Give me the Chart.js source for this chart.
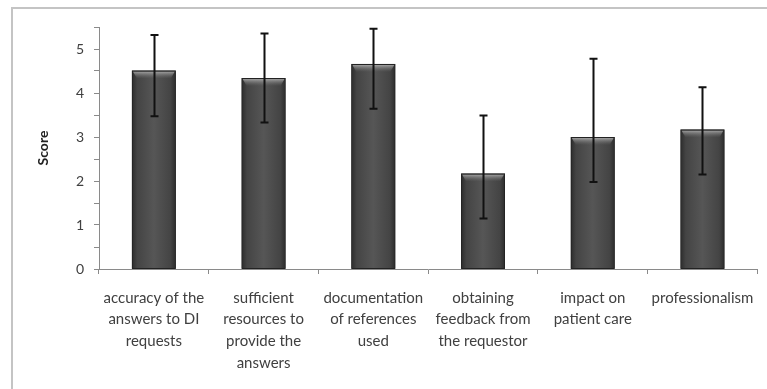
<!DOCTYPE html>
<html>
<head>
<meta charset="utf-8">
<script src="https://cdn.jsdelivr.net/npm/chart.js@4/dist/chart.umd.min.js"></script>
<style>
  body { margin: 0; background: #fff; }
  #wrap { position: relative; width: 767px; height: 389px; overflow: hidden; }
  #frame { position: absolute; left: 11px; top: 7px; width: 800px; height: 420px;
           border-top: 2px solid #c4c4c4; border-left: 2px solid #c4c4c4; }
  canvas { position: absolute; left: 0; top: 0; }
</style>
</head>
<body>
<div id="wrap">
  <div id="frame"></div>
  <canvas id="scoreChart" width="767" height="389"></canvas>
</div>
<script>
  // Categories (multi-line labels as in the original)
  const categories = [
    ['accuracy of the', 'answers to DI', 'requests'],
    ['sufficient', 'resources to', 'provide the', 'answers'],
    ['documentation', 'of references', 'used'],
    ['obtaining', 'feedback from', 'the requestor'],
    ['impact on', 'patient care'],
    ['professionalism']
  ];

  // Mean score per category
  const scores = [4.51, 4.34, 4.66, 2.17, 3.00, 3.17];

  // Error bar extents above / below the mean
  const errorPlus = [0.81, 1.01, 0.80, 1.32, 1.78, 0.96];
  const errorMinus = [1.04, 1.01, 1.02, 1.02, 1.02, 1.02];

  // Y tick labels shown (minor ticks every 0.5 stay unlabelled)
  const yLabels = [0, 1, 2, 3, 4, 5];

  const textColor = '#404040';
  const axisColor = '#8a8a8a';

  // Shading of the bars, drawn over the bar elements
  const barShading = {
    id: 'barShading',
    afterDatasetsDraw(chart) {
      const ctx = chart.ctx;
      chart.getDatasetMeta(0).data.forEach(bar => {
        const left = bar.x - bar.width / 2;
        const right = bar.x + bar.width / 2;
        const top = bar.y;
        const bottom = bar.base;
        ctx.save();
        const g = ctx.createLinearGradient(left, 0, right, 0);
        g.addColorStop(0, '#2c2c2c');
        g.addColorStop(0.12, '#444');
        g.addColorStop(0.5, '#565656');
        g.addColorStop(0.88, '#444');
        g.addColorStop(1, '#2c2c2c');
        ctx.fillStyle = g;
        ctx.fillRect(left + 1, top + 1, right - left - 2, bottom - top - 1);
        // top highlight
        const h = ctx.createLinearGradient(0, top + 1, 0, top + 8);
        h.addColorStop(0, 'rgba(190,190,190,0.75)');
        h.addColorStop(1, 'rgba(120,120,120,0)');
        ctx.fillStyle = h;
        ctx.beginPath();
        ctx.moveTo(left + 1, top + 1);
        ctx.lineTo(right - 1, top + 1);
        ctx.lineTo(right - 5, top + 8);
        ctx.lineTo(left + 5, top + 8);
        ctx.closePath();
        ctx.fill();
        ctx.strokeStyle = '#222';
        ctx.lineWidth = 1;
        ctx.strokeRect(left + 0.5, top + 0.5, right - left - 1, bottom - top - 0.5);
        ctx.restore();
      });
    }
  };

  // Error bars from the arrays above
  const errorBars = {
    id: 'errorBars',
    afterDatasetsDraw(chart) {
      const ctx = chart.ctx;
      const yScale = chart.scales.y;
      chart.getDatasetMeta(0).data.forEach((bar, i) => {
        const x = Math.round(bar.x) + 0.5;
        const yTop = yScale.getPixelForValue(scores[i] + errorPlus[i]);
        const yBot = yScale.getPixelForValue(scores[i] - errorMinus[i]);
        ctx.save();
        ctx.strokeStyle = '#111';
        ctx.lineWidth = 2;
        ctx.beginPath();
        ctx.moveTo(x, yTop);
        ctx.lineTo(x, yBot);
        ctx.moveTo(x - 4, yTop);
        ctx.lineTo(x + 4, yTop);
        ctx.moveTo(x - 4, yBot);
        ctx.lineTo(x + 4, yBot);
        ctx.stroke();
        ctx.restore();
      });
    }
  };

  const ctx = document.getElementById('scoreChart').getContext('2d');
  new Chart(ctx, {
    type: 'bar',
    data: {
      labels: categories,
      datasets: [{
        label: 'Score',
        data: scores,
        backgroundColor: '#4a4a4a',
        borderColor: '#222',
        borderWidth: 0,
        categoryPercentage: 1,
        barPercentage: 0.4
      }]
    },
    options: {
      responsive: false,
      animation: false,
      layout: { padding: { left: 0, right: 8, top: 27, bottom: 0 } },
      plugins: {
        legend: { display: false },
        tooltip: { enabled: false }
      },
      scales: {
        y: {
          min: 0,
          max: 5.5,
          afterFit: scale => { scale.width = 99; },
          ticks: {
            stepSize: 0.5,
            padding: 10,
            color: textColor,
            font: { family: 'Lato', size: 14 },
            callback: v => yLabels.includes(v) ? String(v) : ''
          },
          grid: { drawOnChartArea: false, drawTicks: true, tickLength: 5, color: axisColor },
          border: { color: axisColor, width: 1 },
          title: {
            display: true,
            text: 'Score',
            color: '#222',
            font: { family: 'Lato', size: 14, weight: 'bold' },
            padding: { top: 35, bottom: 0 }
          }
        },
        x: {
          afterFit: scale => { scale.height = 120; },
          ticks: {
            maxRotation: 0,
            autoSkip: false,
            padding: 13,
            color: textColor,
            font: { family: 'Lato', size: 15, lineHeight: 1.45 }
          },
          grid: { offset: true, drawOnChartArea: false, drawTicks: true, tickLength: 5, color: axisColor },
          border: { color: axisColor, width: 1 }
        }
      }
    },
    plugins: [barShading, errorBars]
  });
</script>
</body>
</html>
